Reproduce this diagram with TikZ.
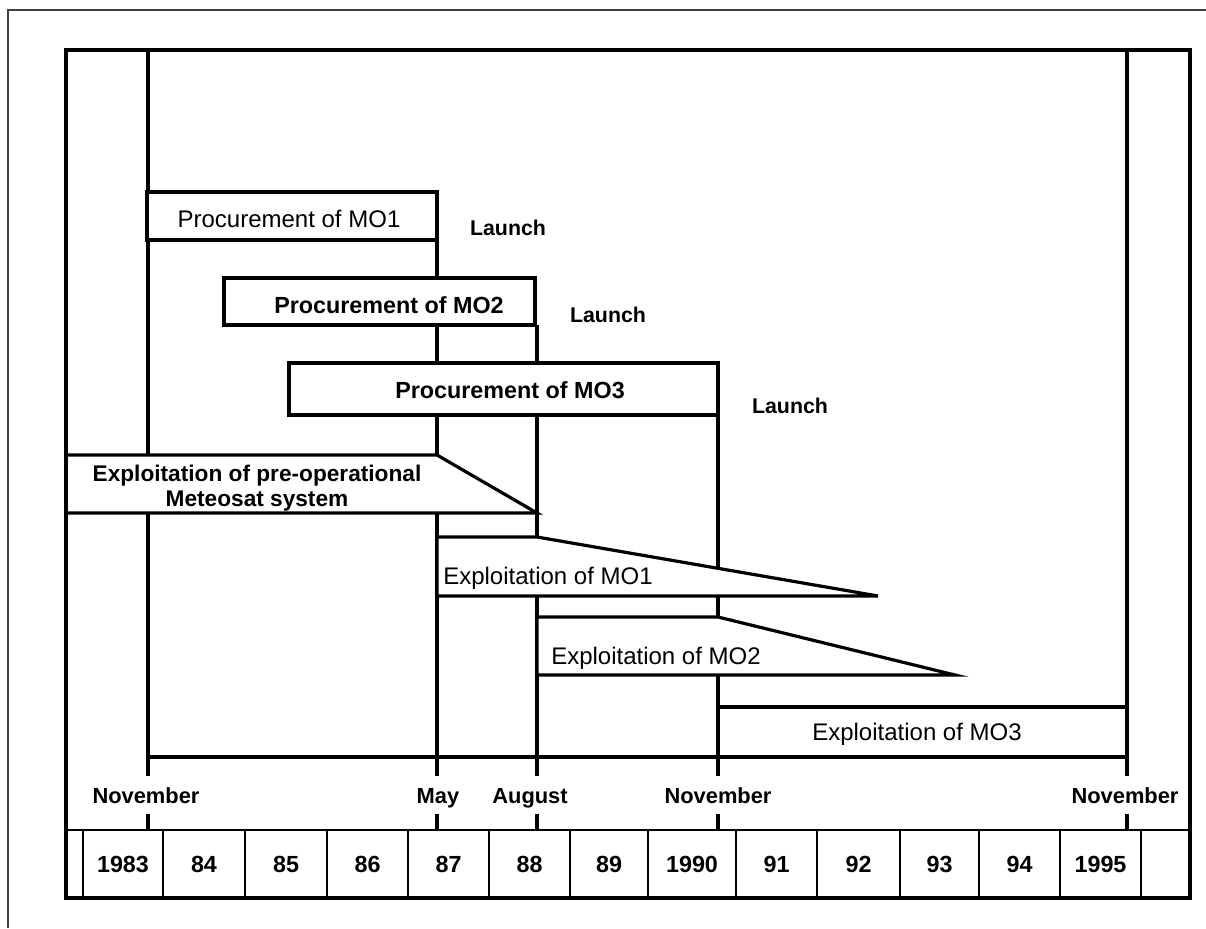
\documentclass[tikz,border=0pt]{standalone}
\usepackage{fontspec}
\setmainfont{Liberation Sans}
\begin{document}
\begin{tikzpicture}[x=0.75pt,y=-0.75pt,
  sheet/.style={line width=1pt,black!75},
  frame/.style={line width=2.8pt,line join=miter},
  guide/.style={line width=2.4pt},
  bar/.style={draw,line width=2.4pt,fill=white,line join=miter},
  cell/.style={line width=2pt},
  txt/.style={inner sep=0pt,anchor=base,font=\fontsize{18}{20}\selectfont},
  btxt/.style={inner sep=0pt,anchor=base,font=\bfseries\fontsize{17.5}{20}\selectfont},
  launch/.style={inner sep=0pt,anchor=base,font=\bfseries\fontsize{16}{18}\selectfont},
  month/.style={inner sep=0pt,anchor=base,font=\bfseries\fontsize{16.4}{18}\selectfont},
  year/.style={inner sep=0pt,anchor=base,font=\bfseries\fontsize{17.5}{20}\selectfont}]

\useasboundingbox (0,0) rectangle (1206,928);
\fill[white] (0,0) rectangle (1206,928);

% edge of the page
\draw[sheet] (8,928) -- (8,10) -- (1206,10);

% month markers on the time axis
\coordinate (mNov83) at (148,50);
\coordinate (mMay87) at (437,240);
\coordinate (mAug88) at (537,325);
\coordinate (mNov90) at (718,415);
\coordinate (mNov95) at (1127,50);
\foreach \m/\x in {Nov83/148,May87/437,Aug88/537,Nov90/718,Nov95/1127}{
  \coordinate (t\m) at (\x,776);
  \coordinate (u\m) at (\x,814);
  \coordinate (v\m) at (\x,830);
  \draw[guide] (m\m) -- (t\m);
  \draw[guide] (u\m) -- (v\m);
}
\draw[guide] (148,757) -- (1127,757);

% procurement phases
\draw[bar] (147,192) rectangle (437,240);
\draw[bar] (224,278) rectangle (535,325);
\draw[bar] (289,363) rectangle (718,415);

% exploitation phases
\draw[bar] (66,455) -- (437,455) -- (537,513) -- (66,513) -- cycle;
\draw[bar] (437,537) -- (537,537) -- (878,596) -- (437,596) -- cycle;
\draw[bar] (537,617) -- (718,617) -- (955,675) -- (537,675) -- cycle;
\draw[bar] (718,707) rectangle (1127,757);

% labels
\node[txt]  (proc1) at (289,227) {Procurement of MO1};
\node[btxt] (proc2) at (389,313) {Procurement of MO2};
\node[btxt] (proc3) at (510,398) {Procurement of MO3};
\node[launch] (launch1) at (508,235) {Launch};
\node[launch] (launch2) at (608,322) {Launch};
\node[launch] (launch3) at (790,413) {Launch};
\node[inner sep=0pt,align=center,font=\bfseries\fontsize{17}{18.75}\selectfont]
  (preop) at (257,488) {Exploitation of pre-operational\\Meteosat system};
\node[txt,anchor=base west] (expl1) at (443,584) {Exploitation of MO1};
\node[txt,anchor=base west] (expl2) at (551,664) {Exploitation of MO2};
\node[txt] (expl3) at (917,740) {Exploitation of MO3};

\node[month] (lNov83) at (146,803) {November};
\node[month] (lMay87) at (438,803) {May};
\node[month] (lAug88) at (530,803) {August};
\node[month] (lNov90) at (718,803) {November};
\node[month] (lNov95) at (1125,803) {November};

% year strip
\draw[cell] (66,830) -- (1190,830);
\foreach \x in {83,163,245,327,408,489,570,648,736,817,900,979,1060,1141}{
  \draw[cell] (\x,830) -- (\x,898);
}
\foreach \a/\b/\y in {83/163/1983,163/245/84,245/327/85,327/408/86,408/489/87,
  489/570/88,570/648/89,648/736/1990,736/817/91,817/900/92,900/979/93,
  979/1060/94,1060/1141/1995}{
  \node[year] (y\y) at ({(\a+\b)/2},872) {\y};
}

% outer frame of the chart
\draw[frame] (66,50) rectangle (1190,898);
\end{tikzpicture}
\end{document}
